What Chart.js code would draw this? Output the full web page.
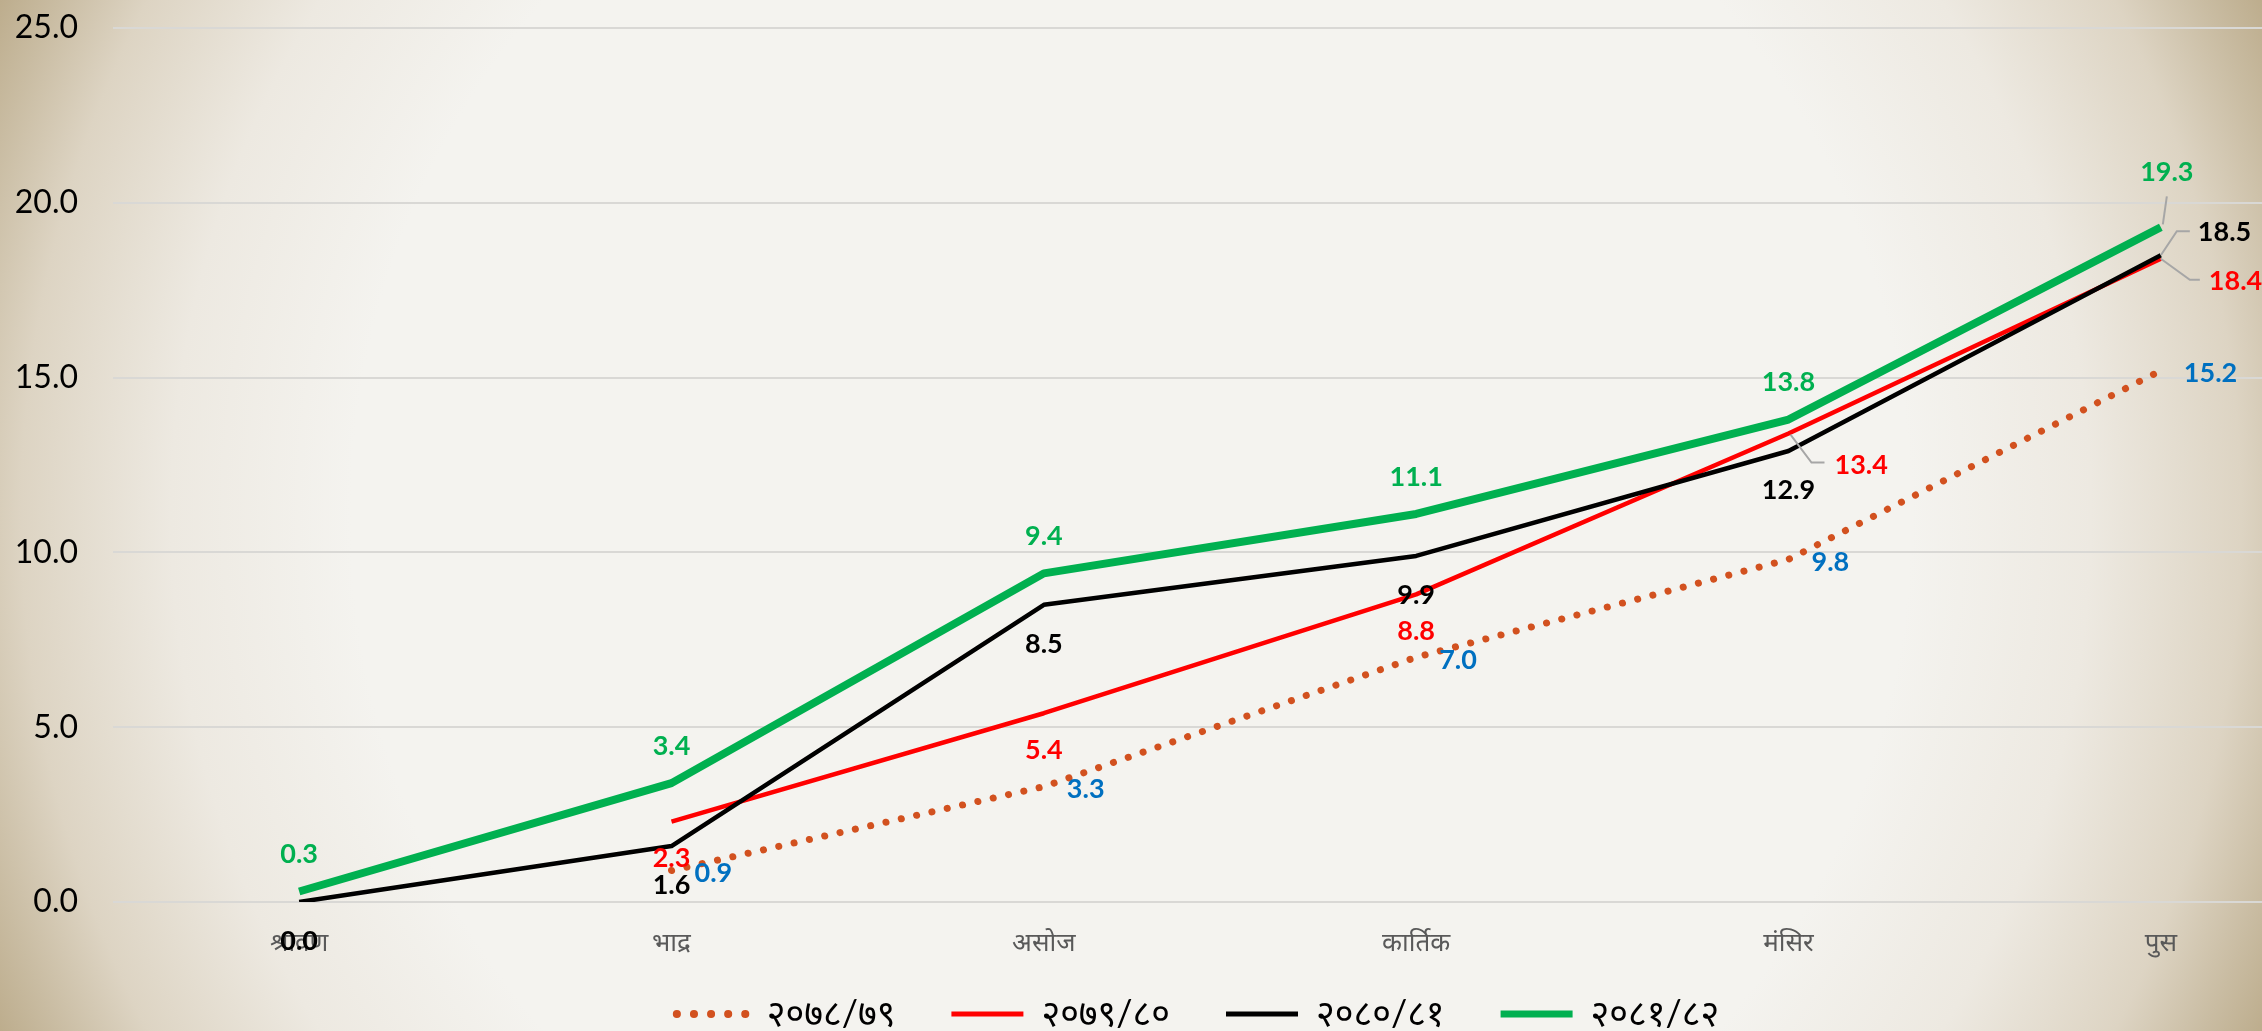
<!DOCTYPE html>
<html>
<head>
<meta charset="utf-8">
<script src="https://cdn.jsdelivr.net/npm/chart.js@4/dist/chart.umd.min.js"></script>
<style>
html, body { margin: 0; padding: 0; overflow: hidden; background: #F4F3EF; }
#wrap {
  position: relative; width: 2262px; height: 1031px; overflow: hidden;
  background: radial-gradient(circle 1260px at 50% 50%, #F4F3EF 0px, #F4F3EF 780px, #EDE9E1 960px, #DDD4C3 1110px, #C9BCA2 1190px, #B9A886 1260px);
}
#c { position: absolute; left: 0; top: 0; width: 2400px; height: 1064px; }
</style>
</head>
<body>
<div id="wrap"><canvas id="c" width="2400" height="1064"></canvas></div>
<script>
// ---- data ----
const months = ['श्रावण', 'भाद्र', 'असोज', 'कार्तिक', 'मंसिर', 'पुस'];
const seriesNames = ['२०७८/७९', '२०७९/८०', '२०८०/८१', '२०८१/८२'];
const fy7879 = [null, 0.9, 3.3, 7.0, 9.8, 15.2];
const fy7980 = [null, 2.3, 5.4, 8.8, 13.4, 18.4];
const fy8081 = [0.0, 1.6, 8.5, 9.9, 12.9, 18.5];
const fy8182 = [0.3, 3.4, 9.4, 11.1, 13.8, 19.3];
const yTicks = [0, 5, 10, 15, 20, 25];

// ---- label placement (styling) ----
const LABEL_STYLE = [
  { color: '#0070C0', align: 'left',   dx: 23, dy: 3 },
  { color: '#FF0000', align: 'center', dx: 0,  dy: 37 },
  { color: '#000000', align: 'center', dx: 0,  dy: 39 },
  { color: '#00B050', align: 'center', dx: 0,  dy: -37 }
];
const CALLOUTS = {
  '3:5': { align: 'center', dx: 6,  dy: -55, leader: [[2, -3], [6, -31]] },
  '2:5': { align: 'left',   dx: 37, dy: -23, leader: [[0, 0], [16, -24], [29, -24]] },
  '1:5': { align: 'left',   dx: 48, dy: 23,  leader: [[0, 0], [29, 21], [39, 21]] },
  '1:4': { align: 'left',   dx: 46, dy: 32,  leader: [[2, 1], [23, 29], [36, 29]] }
};

const labelPlugin = {
  id: 'valueLabels',
  afterDatasetsDraw(chart) {
    const ctx = chart.ctx;
    chart.data.datasets.forEach((ds, di) => {
      const meta = chart.getDatasetMeta(di);
      const st = LABEL_STYLE[di];
      meta.data.forEach((pt, i) => {
        const v = ds.data[i];
        if (v === null || v === undefined) return;
        const co = CALLOUTS[di + ':' + i];
        ctx.save();
        ctx.font = 'bold 27px Lato, "Open Sans", sans-serif';
        ctx.fillStyle = st.color;
        ctx.textBaseline = 'middle';
        const txt = v.toFixed(1);
        if (co) {
          ctx.strokeStyle = '#A6A6A6';
          ctx.lineWidth = 2;
          ctx.beginPath();
          co.leader.forEach(([dx, dy], k) => {
            if (k === 0) ctx.moveTo(pt.x + dx, pt.y + dy); else ctx.lineTo(pt.x + dx, pt.y + dy);
          });
          ctx.stroke();
          ctx.textAlign = co.align;
          ctx.fillText(txt, pt.x + co.dx, pt.y + co.dy);
        } else {
          ctx.textAlign = st.align;
          ctx.fillText(txt, pt.x + st.dx, pt.y + st.dy);
        }
        ctx.restore();
      });
    });
  }
};

// place the legend row where the reference has it
const legendPlace = {
  id: 'legendPlace',
  afterLayout(chart) {
    const lg = chart.legend;
    if (!lg) return;
    const h = lg.height;
    lg.left += 24.5;
    lg.right += 24.5;
    lg.top = 940;
    lg.bottom = 940 + h;
  }
};

const datasets = [
  { label: seriesNames[0], data: fy7879, borderColor: '#D2511F', backgroundColor: '#D2511F',
    borderWidth: 7, borderDash: [0.1, 15.6], borderCapStyle: 'round', order: 4,
    legendDash: [0.1, 17], legendWidth: 8 },
  { label: seriesNames[1], data: fy7980, borderColor: '#FF0000', backgroundColor: '#FF0000',
    borderWidth: 4.5, order: 3, legendWidth: 5 },
  { label: seriesNames[2], data: fy8081, borderColor: '#000000', backgroundColor: '#000000',
    borderWidth: 4.5, order: 2, legendWidth: 5 },
  { label: seriesNames[3], data: fy8182, borderColor: '#00B050', backgroundColor: '#00B050',
    borderWidth: 8, order: 1, legendWidth: 7 }
].map(d => Object.assign({ pointRadius: 0, pointHoverRadius: 0, tension: 0, fill: false, spanGaps: false,
  borderJoinStyle: 'round' }, d));

new Chart(document.getElementById('c'), {
  type: 'line',
  data: { labels: months, datasets },
  plugins: [labelPlugin, legendPlace],
  options: {
    responsive: false,
    animation: false,
    devicePixelRatio: 1,
    layout: { padding: { left: 0, right: 53, top: 28, bottom: 0 } },
    scales: {
      x: {
        offset: true,
        grid: { display: false },
        border: { display: false },
        ticks: { color: '#595959', padding: 17, font: { size: 26, family: 'Lato, "Noto Sans", sans-serif' }, maxRotation: 0 },
        afterFit(scale) { scale.height = 60; }
      },
      y: {
        min: 0, max: 25,
        afterBuildTicks(scale) { scale.ticks = yTicks.map(v => ({ value: v })); },
        grid: { color: '#D9D8D5', lineWidth: 2, drawTicks: true, tickLength: 35, tickColor: 'rgba(0,0,0,0)' },
        border: { display: false },
        ticks: { color: '#000000', padding: 0, font: { size: 32, family: 'Lato, "Open Sans", sans-serif' },
          callback: v => Number(v).toFixed(1) },
        afterFit(scale) { scale.width = 113; }
      }
    },
    plugins: {
      tooltip: { enabled: false },
      legend: {
        position: 'bottom',
        labels: {
          usePointStyle: true,
          pointStyleWidth: 72,
          boxHeight: 36,
          padding: 56,
          color: '#000000',
          font: { size: 36, family: 'Lato, "Noto Sans", sans-serif' },
          generateLabels(chart) {
            return chart.data.datasets.map((ds, i) => ({
              text: ds.label,
              fillStyle: ds.borderColor,
              strokeStyle: ds.borderColor,
              lineWidth: ds.legendWidth,
              lineDash: ds.legendDash || [],
              lineCap: ds.legendDash ? 'round' : 'butt',
              pointStyle: 'line',
              fontColor: '#000000',
              hidden: false,
              datasetIndex: i
            }));
          }
        }
      }
    }
  }
});
</script>
</body>
</html>
